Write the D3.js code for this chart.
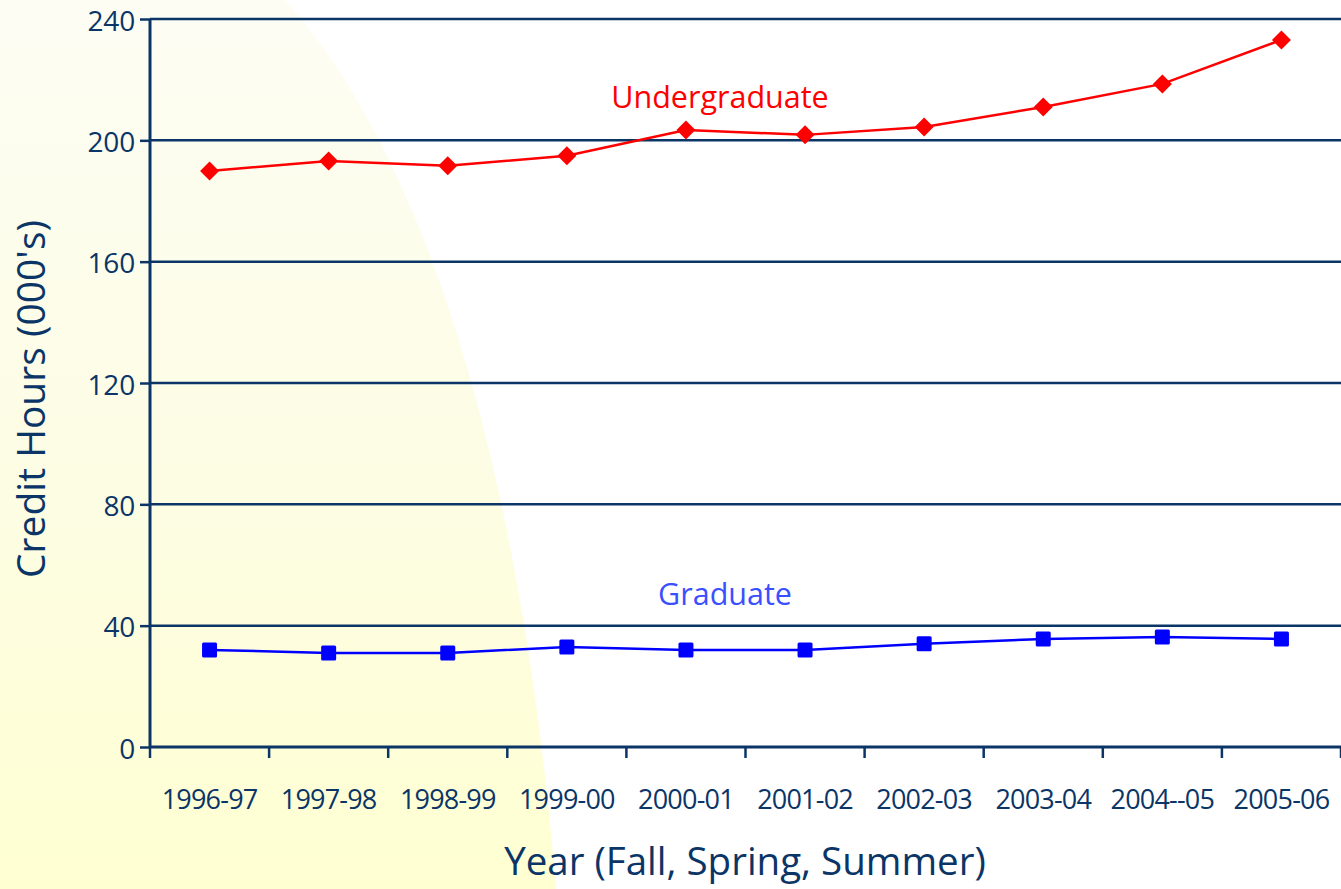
<!DOCTYPE html>
<html>
<head>
<meta charset="utf-8">
<script src="https://cdn.jsdelivr.net/npm/d3@7"></script>
<style>
  body { margin: 0; background: #fff; }
  svg { display: block; font-family: "Open Sans", sans-serif; }
</style>
</head>
<body>
<div id="chart"></div>
<script>
// chart data
var years = ["1996-97", "1997-98", "1998-99", "1999-00", "2000-01", "2001-02", "2002-03", "2003-04", "2004--05", "2005-06"];
var undergrad = [189.9, 193.2, 191.6, 194.9, 203.4, 201.8, 204.4, 211.0, 218.6, 233.1];
var grad = [32.0, 31.0, 31.0, 33.0, 32.0, 32.0, 34.0, 35.6, 36.3, 35.6];
var yTicks = [0, 40, 80, 120, 160, 200, 240];

var W = 1341, H = 889;
var margin = {top: 19, right: 0, bottom: 142, left: 150},
    width = W - margin.left - margin.right,
    height = H - margin.top - margin.bottom;

var navy = "#0a3566";

var svg = d3.select("#chart").append("svg")
    .attr("width", W)
    .attr("height", H);

// yellow background swoosh
var defs = svg.append("defs");
var grd = defs.append("linearGradient")
    .attr("id", "bg")
    .attr("x1", 0).attr("y1", 0).attr("x2", 0).attr("y2", 1);
grd.append("stop").attr("offset", "0%").attr("stop-color", "#fdfdf4");
grd.append("stop").attr("offset", "55%").attr("stop-color", "#fdfde4");
grd.append("stop").attr("offset", "100%").attr("stop-color", "#ffffd2");

svg.append("path")
    .attr("d", "M0,0 L285,0 C420,150 520,450 556,889 L0,889 Z")
    .attr("fill", "url(#bg)");

var g = svg.append("g")
    .attr("transform", "translate(" + margin.left + "," + margin.top + ")");

var x = d3.scaleBand()
    .domain(years)
    .range([0, width]);

var y = d3.scaleLinear()
    .domain([0, 240])
    .range([height, 0]);

// gridlines
g.selectAll(".grid")
    .data(yTicks.filter(function(d) { return d > 0; }))
    .enter().append("line")
    .attr("x1", 0)
    .attr("x2", width)
    .attr("y1", function(d) { return y(d); })
    .attr("y2", function(d) { return y(d); })
    .attr("stroke", navy)
    .attr("stroke-width", 2.5);

// y axis
var yAxis = g.append("g")
    .call(d3.axisLeft(y).tickValues(yTicks).tickSize(10).tickPadding(5));
yAxis.select(".domain").attr("stroke", navy).attr("stroke-width", 3).attr("d", "M0," + height + "V0");
yAxis.selectAll(".tick line").attr("stroke", navy).attr("stroke-width", 2.5);
yAxis.selectAll(".tick text")
    .attr("fill", navy)
    .attr("dy", "0.4em")
    .style("font-size", "28px")
    .style("letter-spacing", "-0.2px")
    .style("font-family", "'Open Sans', sans-serif");

// x axis, ticks at the category boundaries
var bounds = years.map(function(d) { return x(d); }).concat([width]);
var xAxisG = g.append("g")
    .attr("transform", "translate(0," + height + ")");
xAxisG.append("line")
    .attr("x1", 0).attr("x2", width)
    .attr("stroke", navy).attr("stroke-width", 3);
xAxisG.selectAll(".xtick")
    .data(bounds)
    .enter().append("line")
    .attr("x1", function(d) { return d; })
    .attr("x2", function(d) { return d; })
    .attr("y1", 0).attr("y2", 11)
    .attr("stroke", navy).attr("stroke-width", 2.5);
xAxisG.selectAll(".xlabel")
    .data(years)
    .enter().append("text")
    .attr("x", function(d) { return x(d) + x.bandwidth() / 2; })
    .attr("y", 62)
    .attr("text-anchor", "middle")
    .attr("fill", navy)
    .style("font-size", "27px")
    .style("letter-spacing", "-0.8px")
    .text(function(d) { return d; });

// axis titles
svg.append("text")
    .attr("x", 745)
    .attr("y", 875)
    .attr("text-anchor", "middle")
    .attr("fill", navy)
    .style("font-size", "38.5px")
    .text("Year (Fall, Spring, Summer)");

svg.append("text")
    .attr("transform", "translate(45,399) rotate(-90)")
    .attr("text-anchor", "middle")
    .attr("fill", navy)
    .style("font-size", "39px")
    .text("Credit Hours (000's)");

// lines
var line = d3.line()
    .x(function(d, i) { return x(years[i]) + x.bandwidth() / 2; })
    .y(function(d) { return y(d); });

g.append("path")
    .datum(undergrad)
    .attr("fill", "none")
    .attr("stroke", "#ff0000")
    .attr("stroke-width", 2.5)
    .attr("d", line);

g.append("path")
    .datum(grad)
    .attr("fill", "none")
    .attr("stroke", "#0000ff")
    .attr("stroke-width", 2.5)
    .attr("d", line);

// markers
g.selectAll(".diamond")
    .data(undergrad)
    .enter().append("path")
    .attr("d", "M0,-9.5 L9.5,0 L0,9.5 L-9.5,0 Z")
    .attr("fill", "#ff0000")
    .attr("transform", function(d, i) {
        return "translate(" + (x(years[i]) + x.bandwidth() / 2) + "," + y(d) + ")";
    });

g.selectAll(".square")
    .data(grad)
    .enter().append("rect")
    .attr("x", function(d, i) { return x(years[i]) + x.bandwidth() / 2 - 7.5; })
    .attr("y", function(d) { return y(d) - 7.5; })
    .attr("width", 15)
    .attr("height", 15)
    .attr("rx", 1.5)
    .attr("fill", "#0000ff");

// series labels
svg.append("text")
    .attr("x", 720)
    .attr("y", 108)
    .attr("text-anchor", "middle")
    .attr("fill", "#ff0000")
    .style("font-size", "30.5px")
    .text("Undergraduate");

svg.append("text")
    .attr("x", 725)
    .attr("y", 605)
    .attr("text-anchor", "middle")
    .attr("fill", "#3a50ff")
    .style("font-size", "30.5px")
    .text("Graduate");
</script>
</body>
</html>
